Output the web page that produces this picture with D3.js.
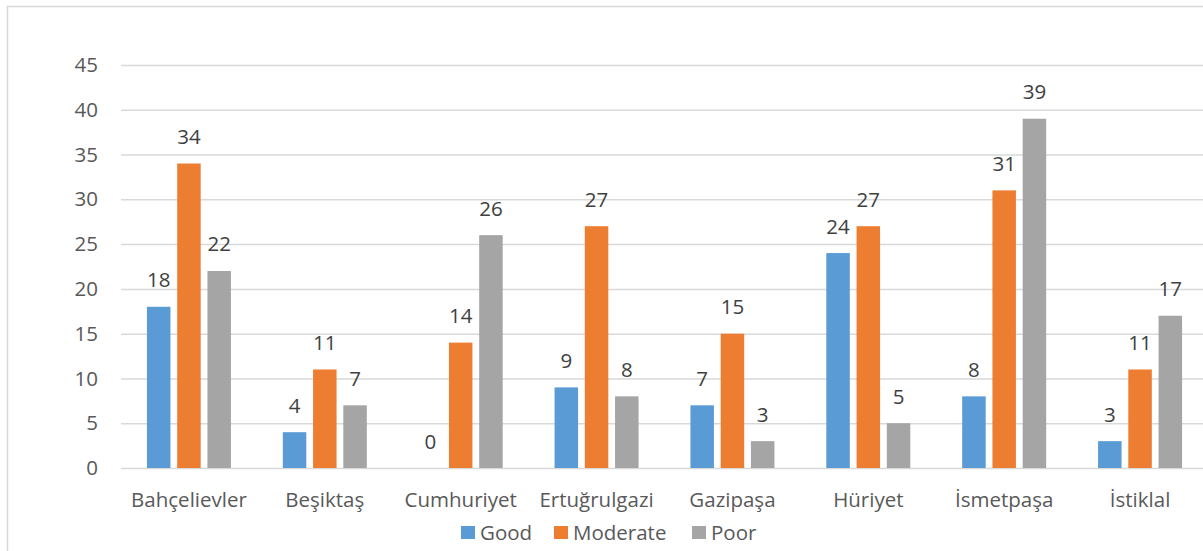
<!DOCTYPE html>
<html>
<head>
<meta charset="utf-8">
<script src="https://cdn.jsdelivr.net/npm/d3@7"></script>
<style>
	body { margin: 0; background: #fff; }
	svg text { font-family: "Open Sans", sans-serif; }
	.grid line { stroke: #d9d9d9; stroke-width: 1.5; }
	.grid text { fill: #595959; font-size: 20.5px; }
	.cats text { fill: #595959; font-size: 20.5px; }
</style>
</head>
<body>
<div id="chart"></div>
<script>
var categories = ["Bahçelievler", "Beşiktaş", "Cumhuriyet", "Ertuğrulgazi", "Gazipaşa", "Hüriyet", "İsmetpaşa", "İstiklal"];
var seriesNames = ["Good", "Moderate", "Poor"];
var good = [18, 4, 0, 9, 7, 24, 8, 3];
var moderate = [34, 11, 14, 27, 15, 27, 31, 11];
var poor = [22, 7, 26, 8, 3, 5, 39, 17];
var yTicks = [0, 5, 10, 15, 20, 25, 30, 35, 40, 45];
var colors = ["#5b9bd5", "#ed7d31", "#a5a5a5"];

var values = [good, moderate, poor];

var W = 1203, H = 551;
var plotLeft = 121, plotRight = 1208, plotTop = 65, plotBottom = 468;

var svg = d3.select("#chart").append("svg")
	.attr("width", W)
	.attr("height", H);

// chart border (cut off on the right and bottom, as in the picture)
svg.append("rect")
	.attr("x", 7.5).attr("y", 6.5)
	.attr("width", W + 20).attr("height", H + 20)
	.attr("fill", "none")
	.attr("stroke", "#d9d9d9")
	.attr("stroke-width", 1.5);

var x0 = d3.scaleBand()
	.domain(categories)
	.range([plotLeft, plotRight]);

var x1 = d3.scaleBand()
	.domain(seriesNames)
	.range([0, 84])
	.paddingInner(0.223);

var y = d3.scaleLinear()
	.domain([0, 45])
	.range([plotBottom, plotTop]);

// gridlines + y labels
var gy = svg.append("g")
	.attr("class", "grid")
	.attr("transform", "translate(" + plotLeft + ",0)")
	.call(d3.axisLeft(y).tickValues(yTicks).tickSize(-(W - plotLeft)).tickPadding(23));
gy.select(".domain").remove();

// category labels
var gx = svg.append("g")
	.attr("class", "cats")
	.attr("transform", "translate(0," + plotBottom + ")")
	.call(d3.axisBottom(x0).tickSize(0));
gx.select(".domain").remove();
gx.selectAll("text").attr("y", 39).attr("dy", 0);

var groups = svg.selectAll(".group")
	.data(categories)
	.enter()
	.append("g")
	.attr("class", "group")
	.attr("transform", function(d) { return "translate(" + (x0(d) + x0.bandwidth() / 2 - 42) + ",0)"; });

var bars = groups.selectAll("g")
	.data(function(d, ci) { return seriesNames.map(function(s, si) { return { s: s, si: si, v: values[si][ci] }; }); })
	.enter()
	.append("g");

bars.append("rect")
	.attr("x", function(d) { return x1(d.s); })
	.attr("y", function(d) { return y(d.v); })
	.attr("width", x1.bandwidth())
	.attr("height", function(d) { return y(0) - y(d.v); })
	.attr("fill", function(d) { return colors[d.si]; });

bars.append("text")
	.attr("x", function(d) { return x1(d.s) + x1.bandwidth() / 2; })
	.attr("y", function(d) { return y(d.v) - 19.5; })
	.attr("text-anchor", "middle")
	.style("font-size", "20.5px")
	.style("fill", "#404040")
	.text(function(d) { return d.v; });

// legend
var legendX = [461, 554, 692];
var legend = svg.selectAll(".legend")
	.data(seriesNames)
	.enter()
	.append("g")
	.attr("class", "legend")
	.attr("transform", function(d, i) { return "translate(" + legendX[i] + ",526)"; });

legend.append("rect")
	.attr("width", 14).attr("height", 13)
	.attr("fill", function(d, i) { return colors[i]; });

legend.append("text")
	.attr("x", 19).attr("y", 14)
	.style("font-size", "20.5px")
	.style("fill", "#595959")
	.text(function(d) { return d; });
</script>
</body>
</html>
